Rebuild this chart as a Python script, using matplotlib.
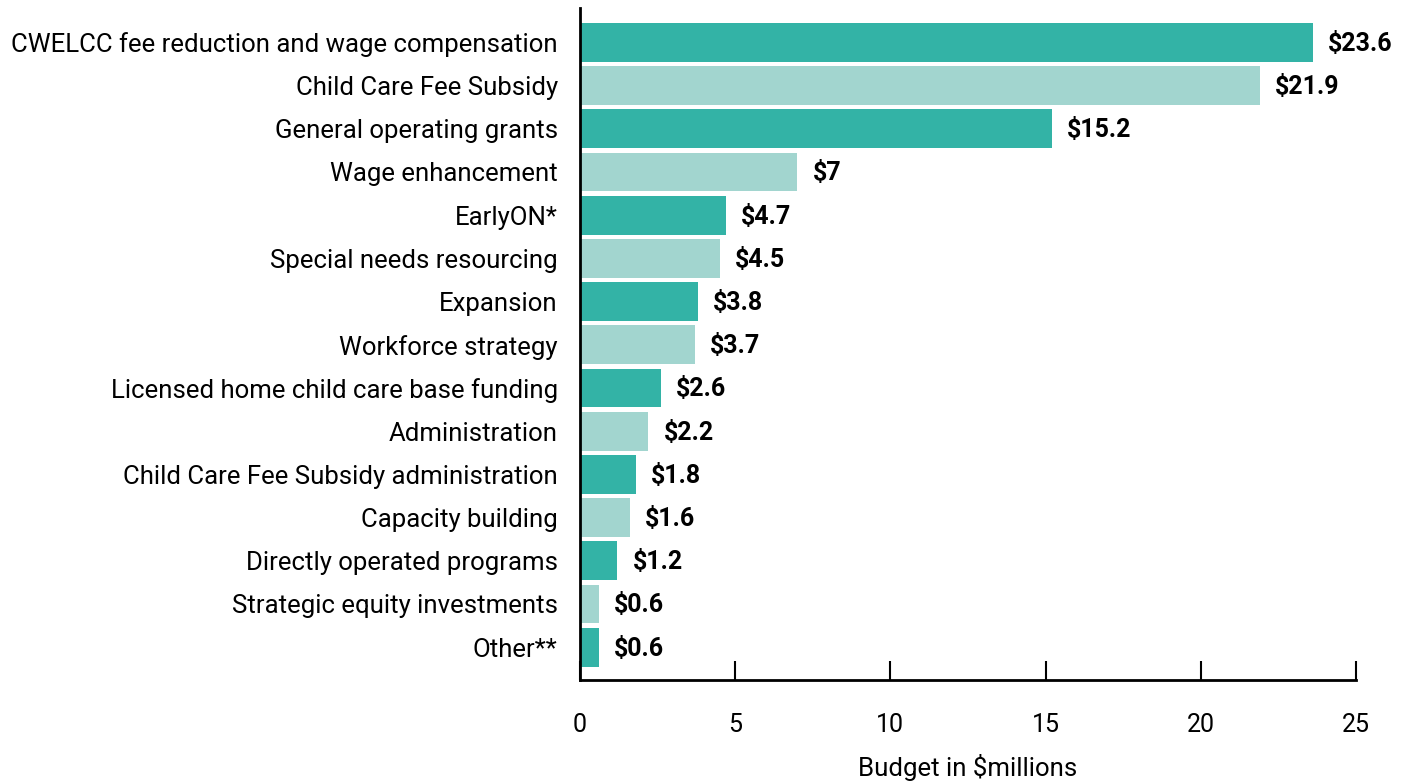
import matplotlib
matplotlib.use("Agg")
import matplotlib.pyplot as plt
from matplotlib import font_manager

categories = [
    "CWELCC fee reduction and wage compensation",
    "Child Care Fee Subsidy",
    "General operating grants",
    "Wage enhancement",
    "EarlyON*",
    "Special needs resourcing",
    "Expansion",
    "Workforce strategy",
    "Licensed home child care base funding",
    "Administration",
    "Child Care Fee Subsidy administration",
    "Capacity building",
    "Directly operated programs",
    "Strategic equity investments",
    "Other**",
]
values = [23.6, 21.9, 15.2, 7, 4.7, 4.5, 3.8, 3.7, 2.6, 2.2, 1.8, 1.6, 1.2, 0.6, 0.6]
value_labels = ["$23.6", "$21.9", "$15.2", "$7", "$4.7", "$4.5", "$3.8", "$3.7",
                "$2.6", "$2.2", "$1.8", "$1.6", "$1.2", "$0.6", "$0.6"]

dark = "#33b3a6"
light = "#a2d5cf"

names = {f.name for f in font_manager.fontManager.ttflist}
fam = "Liberation Sans Narrow" if "Liberation Sans Narrow" in names else "Roboto"
plt.rcParams["font.family"] = [fam, "DejaVu Sans"]

fig = plt.figure(figsize=(14.11, 7.82), dpi=100)
ax = fig.add_axes([0.411, 0.1304, 0.55, 0.8596])

ypos = list(range(len(categories)))
colors = [dark if i % 2 == 0 else light for i in ypos]
ax.barh(ypos, values, height=0.9, color=colors)

for y, v, lab in zip(ypos, values, value_labels):
    ax.annotate(lab, (v, y), xytext=(11, -1), textcoords="offset points",
                va="center", ha="left", fontsize=18, fontweight="bold", color="black")

ax.set_xlim(0, 25)
ax.set_ylim(14.76, -0.8)
ax.set_yticks(ypos)
ax.set_yticklabels(categories, fontsize=18.5)
ax.tick_params(axis="y", length=0, pad=16)
ax.set_xticks([0, 5, 10, 15, 20, 25])
ax.tick_params(axis="x", direction="in", length=14, width=1.5, labelsize=18, pad=24)
ax.set_xlabel("Budget in $millions", fontsize=18.5, labelpad=12)

for s in ["top", "right"]:
    ax.spines[s].set_visible(False)
for s in ["left", "bottom"]:
    ax.spines[s].set_linewidth(2)
    ax.spines[s].set_color("black")

fig.savefig("out.png", dpi=100)
